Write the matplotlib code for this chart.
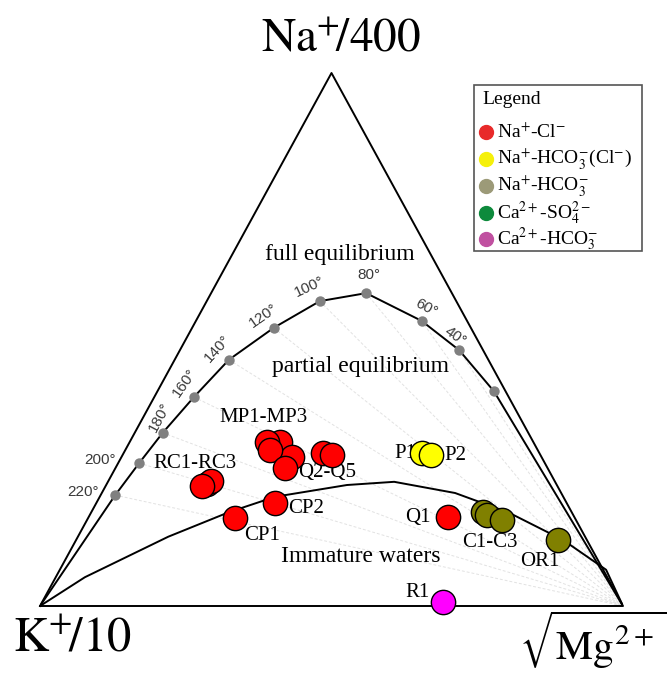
import matplotlib
matplotlib.use('Agg')
import matplotlib.pyplot as plt
from matplotlib.lines import Line2D
from matplotlib.patches import Rectangle
import numpy as np

plt.rcParams['font.family'] = 'Liberation Serif'
plt.rcParams['mathtext.fontset'] = 'stix'

# full-equilibrium temperatures (Na, K, Mg fractions in %)
temp_lbl = [220, 200, 180, 160, 140, 120, 100, 80, 60, 40, 20]
temp_na = [20.8, 26.8, 32.5, 39.2, 46.2, 52.2, 57.2, 58.7, 53.5, 48.0, 40.3]
temp_k = [76.7, 69.6, 62.7, 54.0, 44.5, 33.8, 23.4, 14.7, 7.8, 4.1, 2.0]
temp_mg = [2.5, 3.6, 4.8, 6.8, 9.3, 14.0, 19.4, 26.6, 38.7, 47.9, 57.7]
temp_show = [True] * 10 + [False]
# label offsets (px) and rotation for each temperature
temp_off = [(-32, 3), (-39, 3), (-3, 16), (-9, 14), (-11, 11), (-10, 12),
            (-10, 14), (3, 18), (5, 13), (-4, 14), (0, 0)]
temp_rot = [0, 0, 62, 55, 48, 35, 25, 0, -28, -35, 0]

# immature waters boundary (Na, Mg in %)
imm_na = [0, 5.4, 13.0, 17.6, 20.5, 22.7, 23.3, 21.2, 17.5, 12.4, 6.8, 0]
imm_mg = [0, 5.0, 15.5, 23.6, 30.1, 41.3, 49.1, 60.6, 71.7, 83.5, 93.7, 100]

# samples: name, group, Na, K, Mg (%)
smp_name = ['MP1', 'MP2', 'MP3', 'Q2', 'Q3', 'Q4', 'Q5', 'RC1', 'RC2', 'RC3',
            'CP1', 'CP2', 'P1', 'P2', 'Q1', 'C1', 'C2', 'C3', 'OR1', 'R1']
smp_type = ['NaCl'] * 12 + ['NaHCO3Cl'] * 2 + ['NaCl'] + ['NaHCO3'] * 4 + ['CaHCO3']
smp_na = [30.8, 30.8, 29.3, 28.0, 25.9, 28.7, 28.3, 22.5, 22.9, 23.5,
          16.5, 19.3, 28.7, 28.3, 16.7, 17.6, 17.1, 16.1, 12.4, 0.8]
smp_k = [45.7, 43.4, 45.9, 42.8, 45.0, 37.1, 35.8, 61.0, 59.9, 58.9,
         58.3, 50.0, 20.1, 18.8, 21.7, 15.2, 14.8, 12.7, 5.0, 30.5]
smp_mg = [23.5, 25.8, 24.8, 29.2, 29.1, 34.2, 35.9, 16.5, 17.2, 17.6,
          25.2, 30.7, 51.2, 52.9, 61.6, 67.2, 68.1, 71.2, 82.6, 68.7]

# drawing order so the overlaps stack the same way
draw_order = [1, 0, 5, 6, 3, 2, 4, 8, 9, 7, 10, 11, 12, 13, 14, 15, 16, 17, 18, 19]

group_lbl = ['MP1-MP3', 'Q2-Q5', 'RC1-RC3', 'CP1', 'CP2', 'P1', 'P2', 'Q1', 'C1-C3', 'OR1', 'R1']
group_anchor = ['MP1', 'Q2', 'RC1', 'CP1', 'CP2', 'P1', 'P2', 'Q1', 'C2', 'OR1', 'R1']
group_off = [(-3, 24), (35, -16), (-7, 23), (27, -17), (31, -5), (-17, 0), (24, 0),
             (-30, -1), (3, -28), (-18, -22), (-25, 9)]

fill = {'NaCl': '#ff0000', 'NaHCO3Cl': '#ffff00', 'NaHCO3': '#808000', 'CaHCO3': '#ff00ff'}

leg_lbl = [r'Na$^{+}$-Cl$^{-}$', r'Na$^{+}$-HCO$_3^{-}$(Cl$^{-}$)', r'Na$^{+}$-HCO$_3^{-}$',
           r'Ca$^{2+}$-SO$_4^{2-}$', r'Ca$^{2+}$-HCO$_3^{-}$']
leg_col = ['#e82a2a', '#f5f00a', '#9c9a78', '#0d8a3c', '#c050a0']


def tern(na, k, mg):
    na, k, mg = np.asarray(na, float), np.asarray(k, float), np.asarray(mg, float)
    s = na + k + mg
    return (mg + na / 2) / s, na / s


W, H = 672, 675


def fpx(x, y):
    # figure pixel (from top-left) -> figure fraction
    return x / W, 1 - y / H


fig = plt.figure(figsize=(W / 100, H / 100), dpi=100)
ax = fig.add_axes([40 / W, 69 / H, 583 / W, 533 / H])
ax.set_xlim(0, 1)
ax.set_ylim(0, 1)
ax.axis('off')

# triangle frame
ax.plot([0, 1, 0.5, 0], [0, 0, 1, 0], color='black', lw=1.4, clip_on=False, zorder=3)

tx, ty = tern(temp_na, temp_k, temp_mg)

# K-Na isotherms converging on the Mg corner
for x, y in zip(tx, ty):
    ax.plot([x, 1], [y, 0], color='#e2e2e2', lw=0.7, ls=(0, (3, 2)), zorder=1)

# full equilibrium line
ax.plot(np.r_[0, tx, 1], np.r_[0, ty, 0], color='black', lw=1.4, zorder=2)

# immature waters line
imm_k = 100 - np.array(imm_na) - np.array(imm_mg)
ix, iy = tern(imm_na, imm_k, imm_mg)
ax.plot(ix, iy, color='black', lw=1.4, zorder=2)

ax.plot(tx, ty, 'o', color='#808080', ms=7.5, mec='none', zorder=4)
for x, y, t, show, off, rot in zip(tx, ty, temp_lbl, temp_show, temp_off, temp_rot):
    if show:
        ax.annotate(f'{t}°', (x, y), xytext=off, textcoords='offset pixels',
                    ha='center', va='center', rotation=rot, fontsize=11,
                    family='Liberation Sans', color='#3a3a3a')

sx, sy = tern(smp_na, smp_k, smp_mg)
for i in draw_order:
    ax.plot(sx[i], sy[i], 'o', ms=17.5, mfc=fill[smp_type[i]], mec='black', mew=1.0,
            zorder=5, clip_on=False)

for lbl, anc, off in zip(group_lbl, group_anchor, group_off):
    i = smp_name.index(anc)
    ax.annotate(lbl, (sx[i], sy[i]), xytext=off, textcoords='offset pixels',
                ha='center', va='center', fontsize=15, zorder=4.5)

ax.text(0.515, 0.66, 'full equilibrium', ha='center', va='center', fontsize=17)
ax.text(0.549, 0.45, 'partial equilibrium', ha='center', va='center', fontsize=17)
ax.text(0.551, 0.092, 'Immature waters', ha='center', va='center', fontsize=17)

# corner labels
fig.text(*fpx(341, 40), r'$\mathrm{Na}^{+}\!/400$', ha='center', va='center', fontsize=34)
fig.text(*fpx(72, 640), r'$\mathrm{K}^{+}\!/10$', ha='center', va='center', fontsize=35)
fig.text(*fpx(593, 640), r'$\sqrt{\mathrm{Mg}^{2+}}$', ha='center', va='center', fontsize=30)

# legend box
x0, y0 = fpx(474, 251)
x1, y1 = fpx(642, 85)
fig.add_artist(Rectangle((x0, y0), x1 - x0, y1 - y0, transform=fig.transFigure,
                         fill=False, ec='#555555', lw=1.2))
fig.text(*fpx(482, 100), 'Legend', ha='left', va='center', fontsize=14)
leg_y = [132, 159, 186, 213, 239]
for lbl, col, yy in zip(leg_lbl, leg_col, leg_y):
    fig.add_artist(Line2D([486 / W], [1 - yy / H], transform=fig.transFigure, ls='none',
                          marker='o', ms=10, mfc=col, mec=col))
    fig.text(*fpx(497, yy), lbl, ha='left', va='center', fontsize=14)

fig.savefig('out.png', dpi=100)
